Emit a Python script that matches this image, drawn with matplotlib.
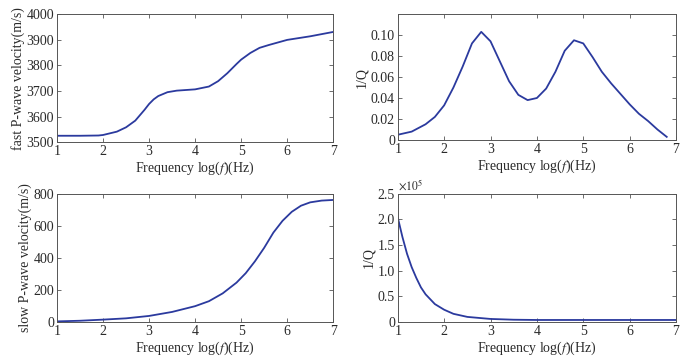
import matplotlib
matplotlib.use('Agg')
import matplotlib.pyplot as plt
from matplotlib.ticker import FuncFormatter

# fast P-wave velocity (m/s)
x_fast = [1.0, 1.5, 1.9, 2.0, 2.3, 2.5, 2.7, 2.9, 3.0, 3.1, 3.2, 3.4, 3.6, 4.0, 4.3, 4.5,
          4.7, 4.9, 5.0, 5.2, 5.4, 5.6, 6.0, 6.5, 7.0]
v_fast = [3525, 3525, 3526, 3528, 3541, 3558, 3584, 3626, 3649, 3667, 3680, 3695, 3701, 3706,
          3717, 3738, 3769, 3805, 3822, 3848, 3868, 3879, 3899, 3913, 3930]

# 1/Q of the fast wave
x_q1 = [1.0, 1.3, 1.6, 1.8, 2.0, 2.2, 2.4, 2.6, 2.8, 3.0, 3.2, 3.4, 3.6, 3.8, 4.0, 4.2, 4.4,
        4.6, 4.8, 5.0, 5.2, 5.4, 5.6, 5.8, 6.0, 6.2, 6.4, 6.6, 6.8]
q1 = [0.005, 0.008, 0.015, 0.022, 0.033, 0.050, 0.070, 0.092, 0.103, 0.094, 0.075, 0.056, 0.043,
      0.038, 0.040, 0.049, 0.065, 0.085, 0.095, 0.092, 0.079, 0.065, 0.054, 0.044, 0.034, 0.025,
      0.018, 0.010, 0.003]

# slow P-wave velocity (m/s)
x_slow = [1.0, 1.5, 2.0, 2.5, 3.0, 3.5, 4.0, 4.3, 4.6, 4.9, 5.1, 5.3, 5.5, 5.7, 5.9, 6.1,
          6.3, 6.5, 6.75, 7.0]
v_slow = [4, 8, 15, 23, 38, 63, 99, 130, 179, 246, 305, 379, 463, 558, 632, 688, 726, 747,
          758, 762]

# 1/Q of the slow wave
x_q2 = [1.0, 1.1, 1.2, 1.3, 1.4, 1.5, 1.6, 1.8, 2.0, 2.2, 2.5, 3.0, 3.5, 4.0, 5.0, 6.0, 7.0]
q2 = [2.04e5, 1.66e5, 1.33e5, 1.07e5, 0.86e5, 0.675e5, 0.54e5, 0.35e5, 0.24e5, 0.16e5,
      0.10e5, 0.06e5, 0.045e5, 0.04e5, 0.04e5, 0.04e5, 0.04e5]

LINE = '#2b3a9e'
TXT = '#2a2a2a'

plt.rcParams['font.family'] = ['Liberation Serif', 'DejaVu Serif']
plt.rcParams['mathtext.fontset'] = 'stix'
plt.rcParams['font.size'] = 10
XLABEL = r'Frequency log($\mathit{f}$)(Hz)'


def style(ax):
    ax.set_xlim(1, 7)
    ax.set_xticks(range(1, 8))
    ax.tick_params(direction='in', top=True, right=True, length=3, width=0.6,
                   colors='#555555', labelcolor=TXT, labelsize=10, pad=2)
    for s in ax.spines.values():
        s.set_color('#555555')
        s.set_linewidth(0.7)
    ax.set_xlabel(XLABEL, color=TXT, labelpad=1)


def zero_fmt(fmt):
    return FuncFormatter(lambda v, p: '0' if abs(v) < 1e-12 else fmt.format(v))


fig = plt.figure(figsize=(6.87, 3.59), dpi=100)

ax1 = fig.add_axes([0.083, 0.604, 0.402, 0.357])
ax1.plot(x_fast, v_fast, color=LINE, lw=1.3)
ax1.set_ylim(3500, 4000)
ax1.set_yticks(range(3500, 4001, 100))
style(ax1)
ax1.set_ylabel('fast P-wave velocity(m/s)', color=TXT, labelpad=1)

ax2 = fig.add_axes([0.579, 0.610, 0.405, 0.351])
ax2.plot(x_q1, q1, color=LINE, lw=1.3)
ax2.set_ylim(0, 0.12)
ax2.set_yticks([0, 0.02, 0.04, 0.06, 0.08, 0.10])
ax2.yaxis.set_major_formatter(zero_fmt('{:.2f}'))
style(ax2)
ax2.set_ylabel('1/Q', color=TXT, labelpad=2)

ax3 = fig.add_axes([0.083, 0.103, 0.402, 0.357])
ax3.plot(x_slow, v_slow, color=LINE, lw=1.3)
ax3.set_ylim(0, 800)
ax3.set_yticks(range(0, 801, 200))
style(ax3)
ax3.set_ylabel('slow P-wave velocity(m/s)', color=TXT, labelpad=1)

ax4 = fig.add_axes([0.579, 0.103, 0.405, 0.357])
ax4.plot(x_q2, q2, color=LINE, lw=1.3)
ax4.set_ylim(0, 2.5e5)
ax4.set_yticks([0, 0.5e5, 1.0e5, 1.5e5, 2.0e5, 2.5e5])
ax4.yaxis.set_major_formatter(FuncFormatter(lambda v, p: '0' if v == 0 else '{:.1f}'.format(v / 1e5)))
style(ax4)
ax4.set_ylabel('1/Q', color=TXT, labelpad=2)
ax4.text(0.0, 1.01, r'$\times10^5$', transform=ax4.transAxes, color=TXT, fontsize=8.5,
         ha='left', va='bottom')

fig.savefig('out.png', dpi=100)
